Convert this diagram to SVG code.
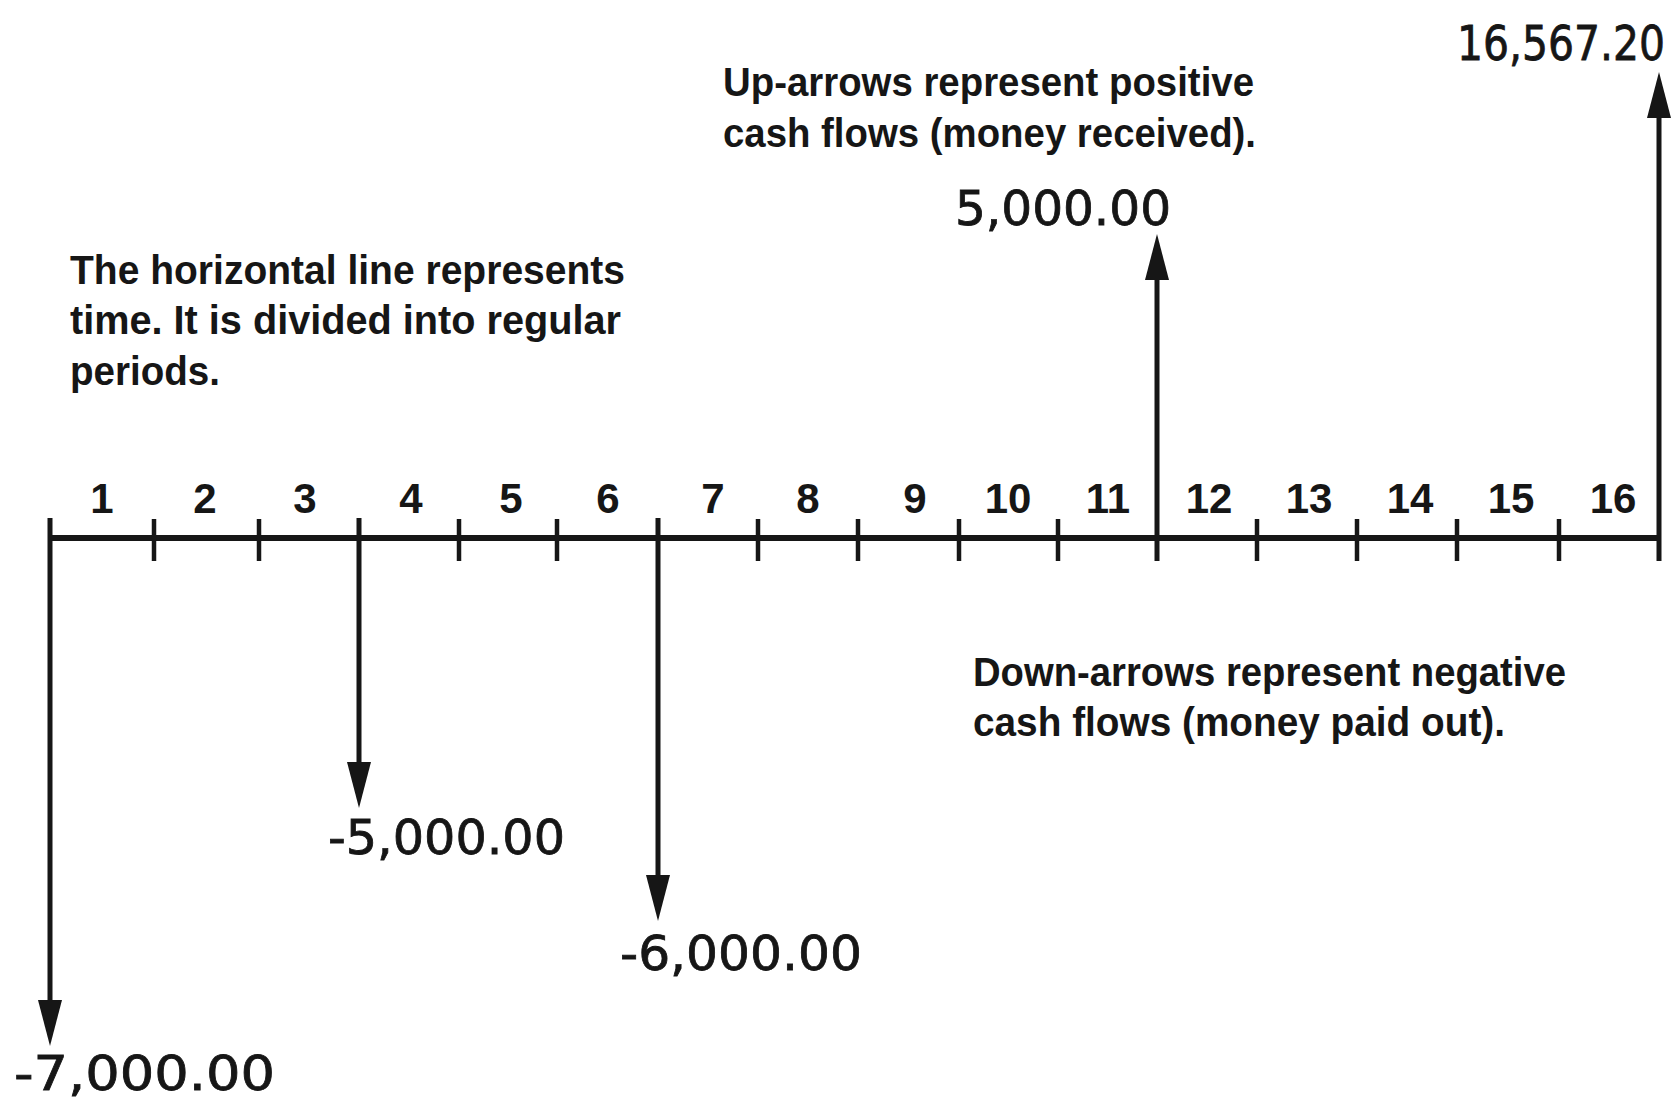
<svg xmlns="http://www.w3.org/2000/svg" width="1680" height="1102" viewBox="0 0 1680 1102">
<style>
.ln{stroke:#161616;stroke-width:5;fill:none}
.ax{stroke:#161616;stroke-width:6;fill:none}
.tk{stroke:#161616;stroke-width:4.5;fill:none}
.num{font-family:"Liberation Sans",Arial,sans-serif;font-weight:bold;font-size:42px;fill:#161616;text-anchor:middle}
.val{font-family:"DejaVu Sans",sans-serif;font-size:48px;fill:#161616;stroke:#161616;stroke-width:0.8}
.note{font-family:"Liberation Sans",Arial,sans-serif;font-weight:bold;font-size:41px;fill:#161616}
</style>
<defs>
<marker id="ah" viewBox="0 0 46 24" refX="0" refY="12" markerWidth="46" markerHeight="24" markerUnits="userSpaceOnUse" orient="auto">
<path d="M0,0 L46,12 L0,24 Z" fill="#161616"/>
</marker>
</defs>
<rect width="1680" height="1102" fill="#ffffff"/>
<g id="connectors">
<line class="ax" x1="50" y1="538" x2="1659" y2="538"/>
<g id="ticks">
<line class="tk" x1="154" y1="519" x2="154" y2="561"/>
<line class="tk" x1="259" y1="519" x2="259" y2="561"/>
<line class="tk" x1="459" y1="519" x2="459" y2="561"/>
<line class="tk" x1="557" y1="519" x2="557" y2="561"/>
<line class="tk" x1="758" y1="519" x2="758" y2="561"/>
<line class="tk" x1="858" y1="519" x2="858" y2="561"/>
<line class="tk" x1="959" y1="519" x2="959" y2="561"/>
<line class="tk" x1="1058" y1="519" x2="1058" y2="561"/>
<line class="tk" x1="1257" y1="519" x2="1257" y2="561"/>
<line class="tk" x1="1357" y1="519" x2="1357" y2="561"/>
<line class="tk" x1="1457" y1="519" x2="1457" y2="561"/>
<line class="tk" x1="1559" y1="519" x2="1559" y2="561"/>
</g>
<line id="flow0" class="ln" x1="50" y1="518" x2="50" y2="1000" marker-end="url(#ah)"/>
<line id="flow3" class="ln" x1="359" y1="518" x2="359" y2="762" marker-end="url(#ah)"/>
<line id="flow6" class="ln" x1="658" y1="518" x2="658" y2="875" marker-end="url(#ah)"/>
<line id="flow11" class="ln" x1="1157" y1="561" x2="1157" y2="280" marker-end="url(#ah)"/>
<line id="flow16" class="ln" x1="1659" y1="561" x2="1659" y2="118" marker-end="url(#ah)"/>
</g>
<g id="period-labels">
<text class="num" x="102" y="513">1</text>
<text class="num" x="205" y="513">2</text>
<text class="num" x="305" y="513">3</text>
<text class="num" x="411" y="513">4</text>
<text class="num" x="511" y="513">5</text>
<text class="num" x="608" y="513">6</text>
<text class="num" x="713" y="513">7</text>
<text class="num" x="808" y="513">8</text>
<text class="num" x="915" y="513">9</text>
<text class="num" x="1008" y="513">10</text>
<text class="num" x="1108" y="513">11</text>
<text class="num" x="1209" y="513">12</text>
<text class="num" x="1309" y="513">13</text>
<text class="num" x="1410" y="513">14</text>
<text class="num" x="1511" y="513">15</text>
<text class="num" x="1613" y="513">16</text>
</g>
<g id="value-labels">
<text id="v16" class="val" x="1457" y="60" font-size="40" textLength="208" lengthAdjust="spacingAndGlyphs">16,567.20</text>
<text id="v11" class="val" x="955" y="225" textLength="216" lengthAdjust="spacingAndGlyphs">5,000.00</text>
<text id="v3" class="val" x="328" y="854" textLength="237" lengthAdjust="spacingAndGlyphs">-5,000.00</text>
<text id="v6" class="val" x="620" y="970" font-size="49" textLength="242" lengthAdjust="spacingAndGlyphs">-6,000.00</text>
<text id="v0" class="val" x="14" y="1090" font-size="52" textLength="261" lengthAdjust="spacingAndGlyphs">-7,000.00</text>
</g>
<g id="note-time">
<text class="note" x="70" y="284" textLength="555" lengthAdjust="spacingAndGlyphs">The horizontal line represents</text>
<text class="note" x="70" y="334" textLength="551" lengthAdjust="spacingAndGlyphs">time. It is divided into regular</text>
<text class="note" x="70" y="385" textLength="150" lengthAdjust="spacingAndGlyphs">periods.</text>
</g>
<g id="note-up">
<text class="note" x="723" y="96" textLength="531" lengthAdjust="spacingAndGlyphs">Up-arrows represent positive</text>
<text class="note" x="723" y="147" textLength="533" lengthAdjust="spacingAndGlyphs">cash flows (money received).</text>
</g>
<g id="note-down">
<text class="note" x="973" y="686" textLength="593" lengthAdjust="spacingAndGlyphs">Down-arrows represent negative</text>
<text class="note" x="973" y="736" textLength="532" lengthAdjust="spacingAndGlyphs">cash flows (money paid out).</text>
</g>
</svg>
